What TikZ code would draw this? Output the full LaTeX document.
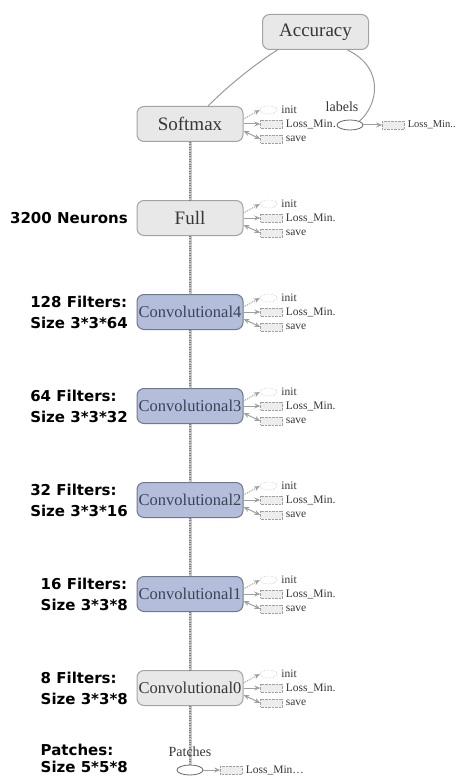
\documentclass[tikz,border=0pt]{standalone}
\usepackage{fontspec}
\setmainfont{Liberation Serif}
\newfontfamily\labelfont{DejaVu Sans}
\usepackage{xcolor}
\usetikzlibrary{positioning}
\usetikzlibrary{calc}
\usetikzlibrary{arrows.meta,shapes.geometric}
\definecolor{opfill}{HTML}{E8E8E8}
\definecolor{opdraw}{HTML}{A3A3A3}
\definecolor{optext}{HTML}{363636}
\definecolor{convfill}{HTML}{B4BEDA}
\definecolor{convdraw}{HTML}{6E7890}
\definecolor{convtext}{HTML}{3C4258}
\definecolor{auxdraw}{HTML}{A0A0A0}
\definecolor{auxfill}{HTML}{EDEDED}
\tikzstyle{layer}=[rectangle,rounded corners=7pt,draw=opdraw,fill=opfill,line width=1pt,minimum width=106pt,minimum height=35pt,inner sep=0pt,text=optext,font=\fontsize{19}{20}\selectfont]
\tikzstyle{longlayer}=[layer,font=\fontsize{16.5}{18}\selectfont]
\tikzstyle{convlayer}=[longlayer,draw=convdraw,fill=convfill,text=convtext]
\tikzstyle{auxell}=[ellipse,draw=auxdraw,densely dotted,minimum width=17pt,minimum height=8pt,inner sep=0pt]
\tikzstyle{auxbox}=[rectangle,draw=auxdraw,densely dotted,fill=auxfill,minimum width=22pt,minimum height=8pt,inner sep=0pt]
\tikzstyle{auxtext}=[font=\fontsize{11.5}{12}\selectfont,text=optext,inner sep=0pt,anchor=west]
\tikzstyle{dataell}=[ellipse,draw=black!60,line width=0.8pt,fill=white,minimum width=26pt,minimum height=10pt,inner sep=0pt]
\tikzstyle{tensor}=[draw=black!22,line width=3pt,postaction={draw=black!50,line width=1.2pt,dash pattern=on 0.8pt off 1.6pt}]
\tikzstyle{auxedge}=[draw=auxdraw,line width=1pt,-{Stealth[length=6pt,width=5pt]}]
\tikzstyle{edge}=[draw=black!40,line width=1pt]
\tikzstyle{sizelabel}=[font=\labelfont\bfseries\fontsize{15}{21}\selectfont,align=left,anchor=east,inner sep=0pt]
\tikzset{small/.style={font=\fontsize{14}{16}\selectfont,text=optext,inner sep=0pt}}
\newcommand\losslong{Loss\_Min\ldots}
\newcommand\lossshort{Loss\_Min.}

\begin{document}
\begin{tikzpicture}[x=1pt,y=-1pt]
 \useasboundingbox (0,0) rectangle (457,778);

 %Accuracy
 \node[layer] (accuracy) at (315.5,32) {Accuracy};

 %layers
 \foreach \y/\name/\label in {124/softmax/Softmax, 218/full/Full}
          \node[layer] (\name) at (190,\y) {\label};
 \node[longlayer] (conv0) at (190,688) {Convolutional0};
 \foreach \y/\name/\label in {312/conv4/Convolutional4, 406/conv3/Convolutional3, 500/conv2/Convolutional2, 594/conv1/Convolutional1}
          \node[convlayer] (\name) at (190,\y) {\label};

 %init, loss, save
 \foreach \name/\loss in {softmax/\losslong, full/\lossshort, conv4/\lossshort, conv3/\lossshort, conv2/\lossshort, conv1/\lossshort, conv0/\lossshort}
 {
   \node[auxell] (\name-init) at ($(\name.east)+(25,-14)$) {};
   \node[auxbox] (\name-loss) at ($(\name.east)+(28,0)$) {};
   \node[auxbox] (\name-save) at ($(\name.east)+(28,15)$) {};
   \node[auxtext] (\name-initlbl) at ($(\name-init.east)+(4,0)$) {init};
   \node[auxtext] (\name-losslbl) at ($(\name-loss.east)+(3,0)$) {\loss};
   \node[auxtext] (\name-savelbl) at ($(\name-save.east)+(3,0)$) {save};
   \path[auxedge,densely dotted] ([yshift=5pt]\name.east) -- (\name-init.west);
   \path[auxedge] (\name.east) -- (\name-loss.west);
   \path[auxedge,{Stealth[length=6pt,width=5pt]}-{Stealth[length=6pt,width=5pt]}] (\name-save.west) -- ([yshift=-7pt]\name.east);
 }

 %labels
 \node[dataell] (labels) at (350,125) {};
 \node[small] (labelslbl) at (342,107) {labels};
 \node[auxbox] (labels-loss) at ($(labels.east)+(30,0)$) {};
 \node[auxtext,font=\fontsize{10.5}{12}\selectfont] (labels-losslbl) at ($(labels-loss.east)+(3,0)$) {Loss\_Min..};
 \path[auxedge] (labels) -- (labels-loss);

 %Patches
 \node[dataell] (patches) at (190,770) {};
 \node[auxbox] (patches-loss) at ($(patches.east)+(28,0)$) {};
 \node[auxtext] (patches-losslbl) at ($(patches-loss.east)+(3,0)$) {\losslong};
 \path[auxedge] (patches) -- (patches-loss);

 \foreach \source/ \dest in {softmax/full, full/conv4, conv4/conv3, conv3/conv2, conv2/conv1, conv1/conv0, conv0/patches}
         \path[tensor] (\source) -- (\dest);
 \node[small] (patcheslbl) at (190,752) {Patches};

 \path[edge] ([xshift=18pt]softmax.north) .. controls (230,84) and (258,62) .. ([xshift=-38pt]accuracy.south);
 \path[edge] (labels.north east) .. controls (378,105) and (385,68) .. ([xshift=32pt]accuracy.south);

 %sizes
 \foreach \y/\name/\desc in {218/neurons/{3200 Neurons}, 312/filters4/{128 Filters:\\Size 3*3*64}, 406/filters3/{64 Filters:\\Size 3*3*32}, 500/filters2/{32 Filters:\\Size 3*3*16}, 594/filters1/{16 Filters:\\Size 3*3*8}, 688/filters0/{8 Filters:\\Size 3*3*8}}
          \node[sizelabel] (\name) at (128,\y) {\desc};
 \node[sizelabel,font=\labelfont\bfseries\fontsize{15}{17}\selectfont] (patchsize) at (128,758) {Patches:\\Size 5*5*8};

\end{tikzpicture}
\end{document}
